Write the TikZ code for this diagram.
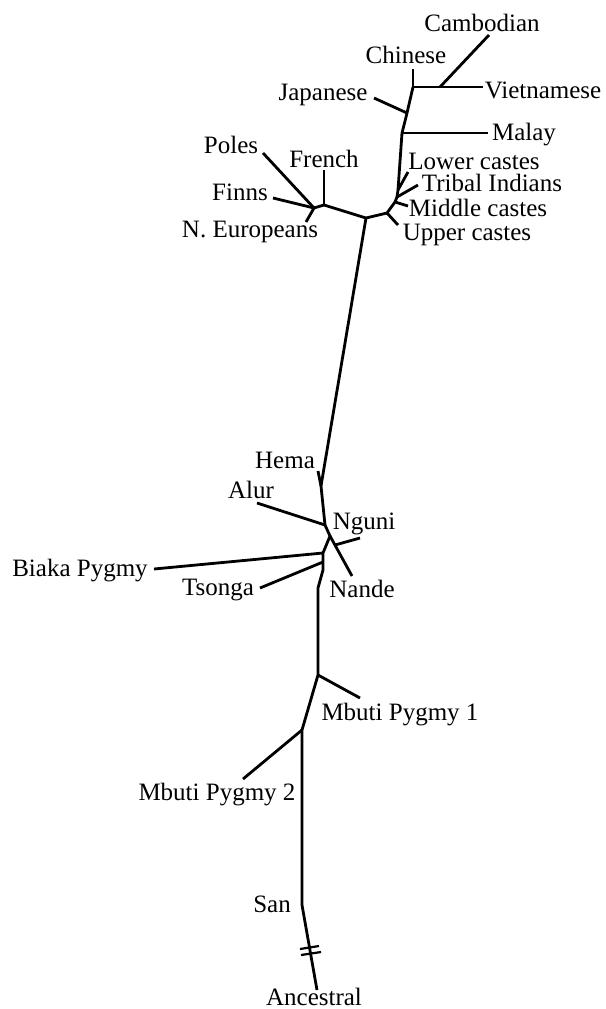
\documentclass[tikz,border=0pt]{standalone}
\usepackage{fontspec}
\setmainfont{Liberation Serif}
\begin{document}
\begin{tikzpicture}[x=1pt,y=-1pt,
  br/.style={line width=2.8pt,line join=miter,line cap=butt},
  lab/.style={inner sep=0pt,font=\fontsize{25}{25}\selectfont,anchor=center}]
\useasboundingbox (0,0) rectangle (605,1009);
% internal junctions and leaf ends
\coordinate (jCh) at (413,87);
\coordinate (chE) at (413,69);
\coordinate (viE) at (483,87);
\coordinate (caJ) at (440,87);
\coordinate (caE) at (489,35);
\coordinate (jJa) at (407,113);
\coordinate (jaE) at (374,98);
\coordinate (jMa) at (402,133);
\coordinate (maE) at (488,133);
\coordinate (jLo) at (398,190);
\coordinate (loE) at (408,172);
\coordinate (jTr) at (397,197);
\coordinate (trE) at (418,185);
\coordinate (jMi) at (395,202);
\coordinate (miE) at (408,206);
\coordinate (jUp) at (387,213);
\coordinate (upE) at (398,225);
\coordinate (jEu) at (366,218);
\coordinate (jFr) at (324,205);
\coordinate (frE) at (324,170);
\coordinate (jPo) at (314,208);
\coordinate (poE) at (263,153);
\coordinate (fiE) at (273,198);
\coordinate (neE) at (306,222);
\coordinate (jHe) at (321,486);
\coordinate (heE) at (318,471);
\coordinate (jAl) at (325,525);
\coordinate (alE) at (257,503);
\coordinate (jNa) at (330,536);
\coordinate (naE) at (352,576);
\coordinate (ngJ) at (335,545);
\coordinate (ngE) at (360,538);
\coordinate (jBi) at (323,553);
\coordinate (biE) at (154,569);
\coordinate (jTs) at (323,562);
\coordinate (tsE) at (260,588);
\coordinate (bA) at (323,570);
\coordinate (bB) at (318,588);
\coordinate (jM1) at (318,675);
\coordinate (m1E) at (360,698);
\coordinate (jM2) at (302,730);
\coordinate (m2E) at (243,779);
\coordinate (jSan) at (302,905);
\coordinate (anE) at (317,990);
\coordinate (t1a) at (300,949);
\coordinate (t1b) at (319,946);
\coordinate (t2a) at (301,955);
\coordinate (t2b) at (321,952);
% labels
\node[lab] (Cambodian) at (482,23) {Cambodian};
\node[lab] (Chinese) at (406,55) {Chinese};
\node[lab] (Vietnamese) at (543,90) {Vietnamese};
\node[lab] (Japanese) at (323,95) {Japanese};
\node[lab] (Malay) at (524,135) {Malay};
\node[lab] (Lower) at (474,161) {Lower castes};
\node[lab] (Tribal) at (492,183) {Tribal Indians};
\node[lab] (Middle) at (478,208) {Middle castes};
\node[lab] (Upper) at (467,235) {Upper castes};
\node[lab] (Poles) at (231,145) {Poles};
\node[lab] (French) at (324,159) {French};
\node[lab] (Finns) at (240,192) {Finns};
\node[lab] (NEur) at (250,232) {N. Europeans};
\node[lab] (Hema) at (285,460) {Hema};
\node[lab] (Alur) at (251,490) {Alur};
\node[lab] (Nguni) at (364,524) {Nguni};
\node[lab] (Biaka) at (80,571) {Biaka Pygmy};
\node[lab] (Tsonga) at (218,590) {Tsonga};
\node[lab] (Nande) at (362,589) {Nande};
\node[lab] (Mbuti1) at (400,715) {Mbuti Pygmy 1};
\node[lab] (Mbuti2) at (217,795) {Mbuti Pygmy 2};
\node[lab] (San) at (272,904) {San};
\node[lab] (Ancestral) at (314,997) {Ancestral};
% tree
\draw[br] (chE) -- (jCh) -- (viE);
\draw[br] (caE) -- (caJ);
\draw[br] (jCh) -- (jJa) -- (jMa) -- (jLo) -- (jTr) -- (jMi) -- (jUp) -- (jEu);
\draw[br] (jaE) -- (jJa);
\draw[br] (jMa) -- (maE);
\draw[br] (jLo) -- (loE);
\draw[br] (jTr) -- (trE);
\draw[br] (jMi) -- (miE);
\draw[br] (jUp) -- (upE);
\draw[br] (jEu) -- (jFr) -- (jPo);
\draw[br] (jFr) -- (frE);
\draw[br] (poE) -- (jPo);
\draw[br] (fiE) -- (jPo);
\draw[br] (neE) -- (jPo);
\draw[br] (jEu) -- (jHe) -- (jAl) -- (jNa) -- (jBi) -- (jTs) -- (bA) -- (bB) -- (jM1) -- (jM2) -- (jSan) -- (anE);
\draw[br] (heE) -- (jHe);
\draw[br] (alE) -- (jAl);
\draw[br] (jNa) -- (naE);
\draw[br] (ngJ) -- (ngE);
\draw[br] (biE) -- (jBi);
\draw[br] (tsE) -- (jTs);
\draw[br] (jM1) -- (m1E);
\draw[br] (jM2) -- (m2E);
\draw[br,line width=2.2pt] (t1a) -- (t1b);
\draw[br,line width=2.2pt] (t2a) -- (t2b);
\end{tikzpicture}
\end{document}
